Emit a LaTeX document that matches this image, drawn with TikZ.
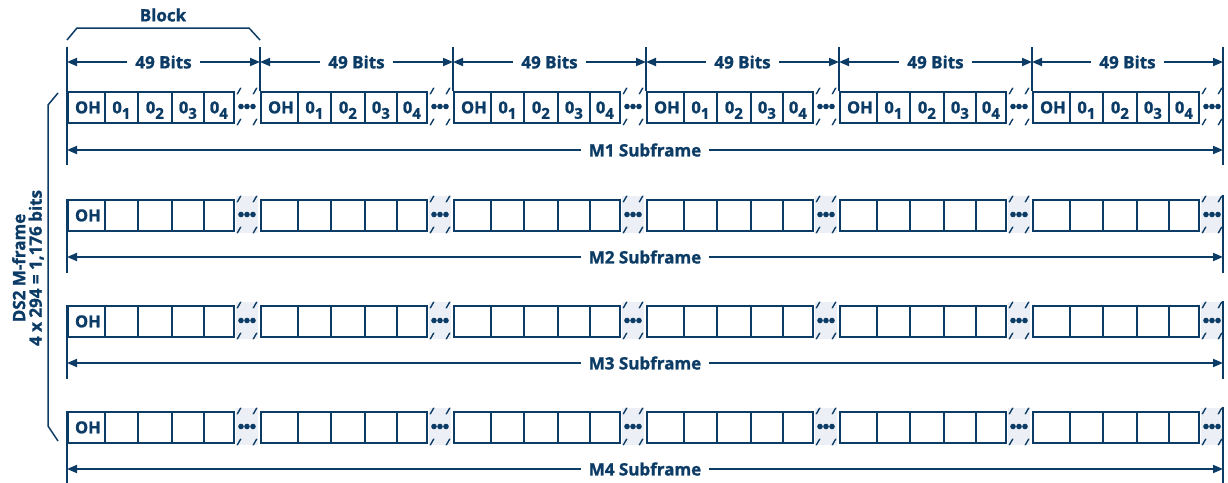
\documentclass[tikz,border=0pt]{standalone}
\usepackage{fontspec}
\setmainfont{Open Sans}[BoldFeatures={FakeBold=1.2}]
\usetikzlibrary{arrows.meta}
\definecolor{navy}{RGB}{12,60,102}
\definecolor{gapshade}{RGB}{236,240,246}
\newcommand\mysub[1]{\smash{\raisebox{-5.5pt}{\fontsize{15}{15}\selectfont #1}}}
\newcommand\brkmark[2]{\draw[brk] (#1+1.6,#2-3.2) -- (#1-0.5,#2+0.5) -- (#1+0.5,#2-0.5) -- (#1-1.6,#2+3.2);}
\begin{document}
\begin{tikzpicture}[x=1pt,y=-1pt,
  every node/.style={text=navy},
  lbl/.style={font=\bfseries\fontsize{17}{19}\selectfont, inner xsep=8pt, inner ysep=2pt, fill=white},
  cell/.style={draw=navy, line width=1.8pt, inner sep=0pt, minimum height=31pt, anchor=north west, font=\bfseries\fontsize{16.5}{18}\selectfont},
  dimarrow/.style={draw=navy, line width=1.8pt, -{Triangle[length=10pt,width=8pt]}},
  rule/.style={draw=navy, line width=1.8pt},
  brk/.style={draw=navy, line width=1pt},
]
\useasboundingbox (0,0) rectangle (1228,482);
% rows of blocks
\foreach \r/\top/\ay in {1/91/150, 2/199/257, 3/305/363, 4/411/469} {
  \foreach \b in {0,...,5} {
    \pgfmathsetmacro\bx{67+193*\b}
    \pgfmathsetmacro\ex{\bx+166}
    \ifnum\r>1 \fill[gapshade] (\ex+3,\top-3) rectangle (\ex+25,\top+34); \fi
    \node[cell, minimum width=37pt] (c\r-\b-0) at (\bx,\top) {\ifnum\r=1 \hspace{3pt}OH\else\ifnum\b=0 \hspace{3pt}OH\fi\fi};
    \foreach \k/\off/\w in {1/37/33, 2/70/34, 3/104/32, 4/136/30} {
      \node[cell, minimum width=\w pt] (c\r-\b-\k) at (\bx+\off,\top) {\ifnum\r=1 0\mysub{\k}\fi};
    }
    \brkmark{\ex+6}{\top}
    \brkmark{\ex+6}{\top+31}
    \brkmark{\ex+22}{\top}
    \brkmark{\ex+22}{\top+31}
    \fill[navy] (\ex+8,\top+15.5) circle (2.8pt) (\ex+14,\top+15.5) circle (2.8pt) (\ex+20,\top+15.5) circle (2.8pt);
  }
  % subframe dimension
  \coordinate (L\r) at (67,\ay);
  \coordinate (R\r) at (1223,\ay);
  \node[lbl] (m\r) at (645,\ay) {M\r{} Subframe};
  \draw[dimarrow] (m\r.west) -- (L\r);
  \draw[dimarrow] (m\r.east) -- (R\r);
}
% extension lines rows 2-4
\foreach \r/\top/\ay in {2/199/257, 3/305/363, 4/411/469} {
  \draw[rule] (67,\top) -- (67,\ay+16);
  \draw[rule] (1223,\top-4) -- (1223,\ay+16);
}
% row 1 extension lines
\draw[rule] (67,47) -- (67,165);
\draw[rule] (1223,47) -- (1223,165);
\foreach \b in {1,...,5} {
  \draw[rule] (67+193*\b,47) -- (67+193*\b,91);
}
% 49 bits dimensions
\foreach \b in {0,...,5} {
  \pgfmathsetmacro\bx{67+193*\b}
  \pgfmathsetmacro\nx{\b<5 ? \bx+193 : 1223}
  \coordinate (bl\b) at (\bx,62);
  \coordinate (br\b) at (\nx,62);
  \node[lbl] (bits\b) at ({(\bx+\nx)/2},62) {49 Bits};
  \draw[dimarrow] (bits\b.west) -- (bl\b);
  \draw[dimarrow] (bits\b.east) -- (br\b);
}
% block bracket
\coordinate (blkA) at (67,40);
\coordinate (blkB) at (77,28);
\coordinate (blkC) at (249,28);
\coordinate (blkD) at (260,40);
\draw[navy, line width=1.5pt] (blkA) -- (blkB) -- (blkC) -- (blkD);
\node[font=\bfseries\fontsize{17}{19}\selectfont] (blocklbl) at (163,15) {Block};
% M-frame bracket
\coordinate (fA) at (58,93);
\coordinate (fB) at (48,105);
\coordinate (fC) at (48,426);
\coordinate (fD) at (58,441);
\draw[navy, line width=1.5pt] (fA) -- (fB) -- (fC) -- (fD);
\node[rotate=90, align=center, font=\bfseries\fontsize{17}{16.5}\selectfont] (mframe) at (28,268) {DS2 M-frame\\4 x 294 = 1,176 bits};
\end{tikzpicture}
\end{document}
